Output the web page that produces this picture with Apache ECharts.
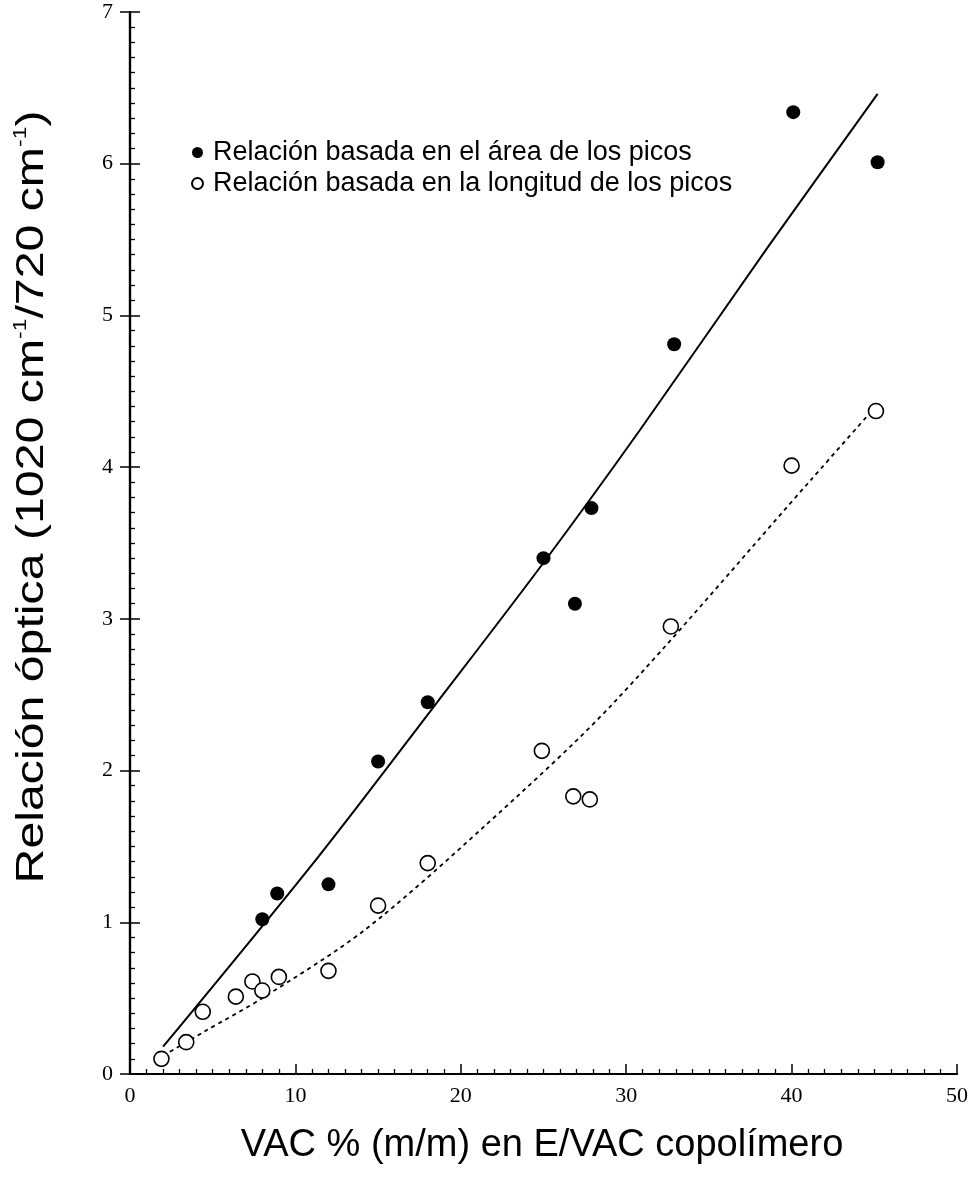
<!DOCTYPE html>
<html><head><meta charset="utf-8">
<script src="https://cdn.jsdelivr.net/npm/echarts@6/dist/echarts.min.js"></script>
<style>html,body{margin:0;padding:0;background:#fff}#c{width:974px;height:1180px}</style>
</head><body><div id="c"></div>
<script>
// ---- data ----
const xTickLabels = ['0', '10', '20', '30', '40', '50'];
const yTickLabels = ['0', '1', '2', '3', '4', '5', '6', '7'];
const seriesNames = ['Relación basada en el área de los picos', 'Relación basada en la longitud de los picos'];
const areaX = [8.0, 8.9, 12.0, 15.0, 18.0, 25.0, 26.9, 27.9, 32.9, 40.1, 45.2];
const areaY = [1.02, 1.19, 1.25, 2.06, 2.45, 3.40, 3.10, 3.73, 4.81, 6.34, 6.01];
const lengthX = [1.9, 3.4, 4.4, 6.4, 7.4, 8.0, 9.0, 12.0, 15.0, 18.0, 24.9, 26.8, 27.8, 32.7, 40.0, 45.1];
const lengthY = [0.10, 0.21, 0.41, 0.51, 0.61, 0.55, 0.64, 0.68, 1.11, 1.39, 2.13, 1.83, 1.81, 2.95, 4.01, 4.37];
const areaFitX = [2.0, 11.3, 18.5, 25.0, 30.8, 38.5, 45.2];
const areaFitY = [0.18, 1.42, 2.44, 3.37, 4.24, 5.44, 6.46];
const lengthFitX = [2.0, 4.5, 8.0, 14.2, 21.4, 29.1, 41.2, 45.0];
const lengthFitY = [0.12, 0.28, 0.50, 0.95, 1.63, 2.43, 3.92, 4.39];
const xTitle = 'VAC % (m/m) en E/VAC copolímero';
const yTitleParts = ['Relación óptica (1020 cm', '-1', '/720 cm', '-1', ')'];

const zip = (a, b) => a.map((v, i) => [v, b[i]]);
const sans = '"Liberation Sans", Arial, sans-serif';
const serif = '"Liberation Serif", "DejaVu Serif", serif';

const chart = echarts.init(document.getElementById('c'), null, {renderer: 'canvas'});
const axisCommon = {
  type: 'value', min: 0,
  axisLine: {show: true, lineStyle: {color: '#000', width: 2.2}},
  splitLine: {show: false}, minorSplitLine: {show: false}
};
chart.setOption({
  backgroundColor: '#fff',
  animation: false,
  grid: {left: 130, right: 17, top: 12, bottom: 106},
  xAxis: [
    Object.assign({}, axisCommon, {
      max: 50, interval: 10, position: 'bottom',
      axisTick: {show: true, inside: true, length: 10, lineStyle: {color: '#000', width: 1.5}},
      minorTick: {show: true, splitNumber: 10, length: 5, lineStyle: {color: '#000', width: 1.3}},
      axisLabel: {color: '#000', fontFamily: serif, fontSize: 22, margin: 11,
        formatter: v => xTickLabels[Math.round(v / 10)]}
    }),
    Object.assign({}, axisCommon, {
      max: 50, interval: 10, position: 'top',
      axisTick: {show: false}, axisLabel: {show: false}
    })
  ],
  yAxis: [
    Object.assign({}, axisCommon, {
      max: 7, interval: 1, position: 'left',
      axisTick: {show: true, inside: true, length: 10, lineStyle: {color: '#000', width: 1.5}},
      minorTick: {show: true, splitNumber: 10, length: 5, lineStyle: {color: '#000', width: 1.3}},
      axisLabel: {color: '#000', fontFamily: serif, fontSize: 22, margin: 17,
        formatter: v => yTickLabels[Math.round(v)]}
    }),
    Object.assign({}, axisCommon, {
      max: 7, interval: 1, position: 'right',
      axisTick: {show: true, inside: true, length: 10, lineStyle: {color: '#000', width: 1.5}},
      axisLabel: {show: false}
    })
  ],
  legend: {
    orient: 'vertical', left: 191, top: 139, itemGap: 4, padding: 0,
    itemWidth: 11, itemHeight: 11,
    textStyle: {color: '#000', fontFamily: sans, fontSize: 27, padding: [0, 0, 0, 5]},
    data: [
      {name: seriesNames[0], icon: 'circle'},
      {name: seriesNames[1], icon: 'circle'}
    ]
  },
  series: [
    {
      type: 'line', data: zip(areaFitX, areaFitY), smooth: 0.3, showSymbol: false, silent: true,
      lineStyle: {color: '#000', width: 2}, z: 2
    },
    {
      type: 'line', data: zip(lengthFitX, lengthFitY), smooth: 0.3, showSymbol: false, silent: true,
      lineStyle: {color: '#000', width: 1.8, type: [4, 4]}, z: 2
    },
    {
      name: seriesNames[0], type: 'scatter', data: zip(areaX, areaY), symbol: 'circle', symbolSize: 14,
      itemStyle: {color: '#000', opacity: 1}, z: 5
    },
    {
      name: seriesNames[1], type: 'scatter', data: zip(lengthX, lengthY), symbol: 'circle', symbolSize: 15,
      itemStyle: {color: '#fff', borderColor: '#000', borderWidth: 1.6, opacity: 1}, z: 5
    }
  ],
  graphic: [
    {
      type: 'text', x: 542, y: 1146,
      style: {text: xTitle, font: '38px ' + sans, fill: '#000', align: 'center', verticalAlign: 'middle',
        textAlign: 'center', textVerticalAlign: 'middle'}
    },
    {
      type: 'text', x: 33, y: 497, rotation: Math.PI / 2, scaleX: 1.27,
      style: {
        text: '{n|' + yTitleParts[0] + '}{s|' + yTitleParts[1] + '}{n|' + yTitleParts[2] + '}{s|' + yTitleParts[3] + '}{n|' + yTitleParts[4] + '}',
        align: 'center', verticalAlign: 'middle', textAlign: 'center', textVerticalAlign: 'middle',
        fill: '#000',
        rich: {
          n: {fontSize: 38, fontFamily: sans, fill: '#000', color: '#000', lineHeight: 42},
          s: {fontSize: 18, fontFamily: sans, fill: '#000', color: '#000', verticalAlign: 'top', lineHeight: 42, padding: [0, 0, 20, 0]}
        }
      }
    }
  ]
});
</script>
</body></html>
